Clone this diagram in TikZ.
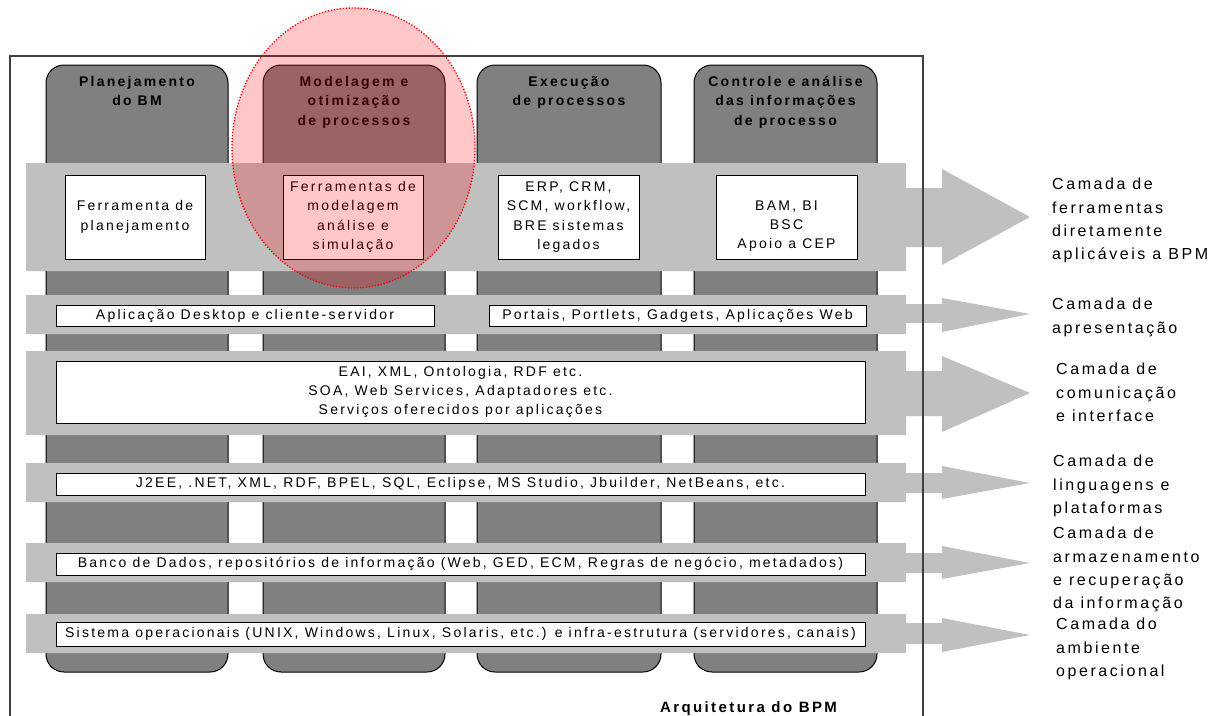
\documentclass[tikz,border=0pt]{standalone}
\usepackage{fontspec}
\setmainfont{Liberation Sans}[LetterSpace=16]
\definecolor{pillargray}{HTML}{808080}
\definecolor{layergray}{HTML}{C0C0C0}
\definecolor{framegray}{HTML}{404040}
% one horizontal layer: band, narrow shaft and arrow head
% #1 top, #2 bottom, #3/#4 shaft top/bottom, #5/#6 head top/bottom, #7 tip
\newcommand\layerarrow[7]{%
  \fill[layergray] (26,#1) -- (906,#1) -- (906,#3) -- (942,#3) -- (942,#5)
    -- (1030,#7) -- (942,#6) -- (942,#4) -- (906,#4) -- (906,#2) -- (26,#2) -- cycle;}
\begin{document}
\begin{tikzpicture}[x=1pt,y=-1pt,
  pillar/.style={draw=black, line width=1pt, fill=pillargray, rounded corners=18pt},
  toolbox/.style={draw=black, line width=1pt, fill=white, inner sep=0pt, align=center,
    font=\fontsize{14}{19.3}\selectfont},
  headtext/.style={font=\fontsize{14}{19.5}\selectfont\bfseries, align=center,
    anchor=north, inner sep=0pt},
  sidelabel/.style={font=\fontsize{16}{23.3}\selectfont, align=left,
    anchor=north west, inner sep=0pt},
  focus/.style={fill=red, fill opacity=0.22, draw=red, draw opacity=1,
    line width=1.3pt, dash pattern=on 1.3pt off 1.7pt}
]
\useasboundingbox (0,0) rectangle (1229,715);

% the four process pillars
\draw[pillar] (46,65) rectangle (228,672);
\draw[pillar] (263,65) rectangle (445,672);
\draw[pillar] (477,65) rectangle (661,672);
\draw[pillar] (694,65) rectangle (877,672);

% the six architecture layers
\layerarrow{163}{271}{188}{247}{169}{265}{217}
\layerarrow{295}{334}{304}{323}{298}{332}{314}
\layerarrow{351}{435}{371}{416}{356}{432}{393}
\layerarrow{463}{502}{473}{493}{466}{499}{483}
\layerarrow{543}{582}{553}{573}{546}{579}{563}
\layerarrow{614}{653}{623}{644}{618}{652}{635}

% enclosing frame, open at the bottom
\draw[framegray, line width=1.2pt] (10,720) -- (10,56) -- (923,56) -- (923,720);

% tool layer
\node[toolbox, minimum width=140pt, minimum height=84pt] (b1) at (135,217)
  {Ferramenta de\\planejamento};
\node[toolbox, minimum width=140pt, minimum height=84pt] (b2) at (353,217)
  {Ferramentas de\\modelagem\\análise e\\simulação};
\node[toolbox, minimum width=141pt, minimum height=84pt] (b3) at (568.5,217)
  {ERP, CRM,\\SCM, workflow,\\BRE sistemas\\legados};
\node[toolbox, minimum width=141pt, minimum height=84pt] (b4) at (786.5,217) {};
\node[font=\fontsize{14}{19.3}\selectfont, align=center, inner sep=0pt] (b4t) at (786.5,226)
  {BAM, BI\\BSC\\Apoio a CEP};

% presentation layer
\node[toolbox, minimum width=378pt, minimum height=21pt] (p1) at (245,315.5)
  {Aplicação Desktop e cliente-servidor};
\node[toolbox, minimum width=377pt, minimum height=21pt] (p2) at (677.5,315.5)
  {Portais, Portlets, Gadgets, Aplicações Web};

% communication layer
\node[toolbox, minimum width=809pt, minimum height=62pt] (c1) at (460.5,392)
  {EAI, XML, Ontologia, RDF etc.\\SOA, Web Services, Adaptadores etc.\\Serviços oferecidos por aplicações};

% languages, storage and operational layers
\node[toolbox, minimum width=809pt, minimum height=22pt] (l1) at (460.5,484)
  {J2EE, .NET, XML, RDF, BPEL, SQL, Eclipse, MS Studio, Jbuilder, NetBeans, etc.};
\node[toolbox, minimum width=809pt, minimum height=22pt] (s1) at (460.5,564)
  {Banco de Dados, repositórios de informação (Web, GED, ECM, Regras de negócio, metadados)};
\node[toolbox, minimum width=809pt, minimum height=24pt] (o1) at (460.5,634)
  {Sistema operacionais (UNIX, Windows, Linux, Solaris, etc.) e infra-estrutura (servidores, canais)};

% pillar headings
\node[headtext] (h1) at (137,76) {Planejamento\\do BM};
\node[headtext] (h2) at (354,76) {Modelagem e\\otimização\\de processos};
\node[headtext] (h3) at (569,76) {Execução\\de processos};
\node[headtext] (h4) at (785.5,76) {Controle e análise\\das informações\\de processo};

% highlighted modelling area
\draw[focus] (353.5,148) ellipse [x radius=121.5, y radius=140];

% layer names
\node[sidelabel] (n1) at (1052,178) {Camada de\\ferramentas\\diretamente\\aplicáveis a BPM};
\node[sidelabel] (n2) at (1052,298) {Camada de\\apresentação};
\node[sidelabel] (n3) at (1056,363) {Camada de\\comunicação\\e interface};
\node[sidelabel] (n4) at (1053,455) {Camada de\\linguagens e\\plataformas};
\node[sidelabel] (n5) at (1053,527) {Camada de\\armazenamento\\e recuperação\\da informação};
\node[sidelabel] (n6) at (1056,618) {Camada do\\ambiente\\operacional};

% caption
\node[font=\fontsize{15}{19}\selectfont\bfseries, anchor=north, inner sep=0pt] (cap)
  at (748.5,701.5) {Arquitetura do BPM};
\end{tikzpicture}
\end{document}
